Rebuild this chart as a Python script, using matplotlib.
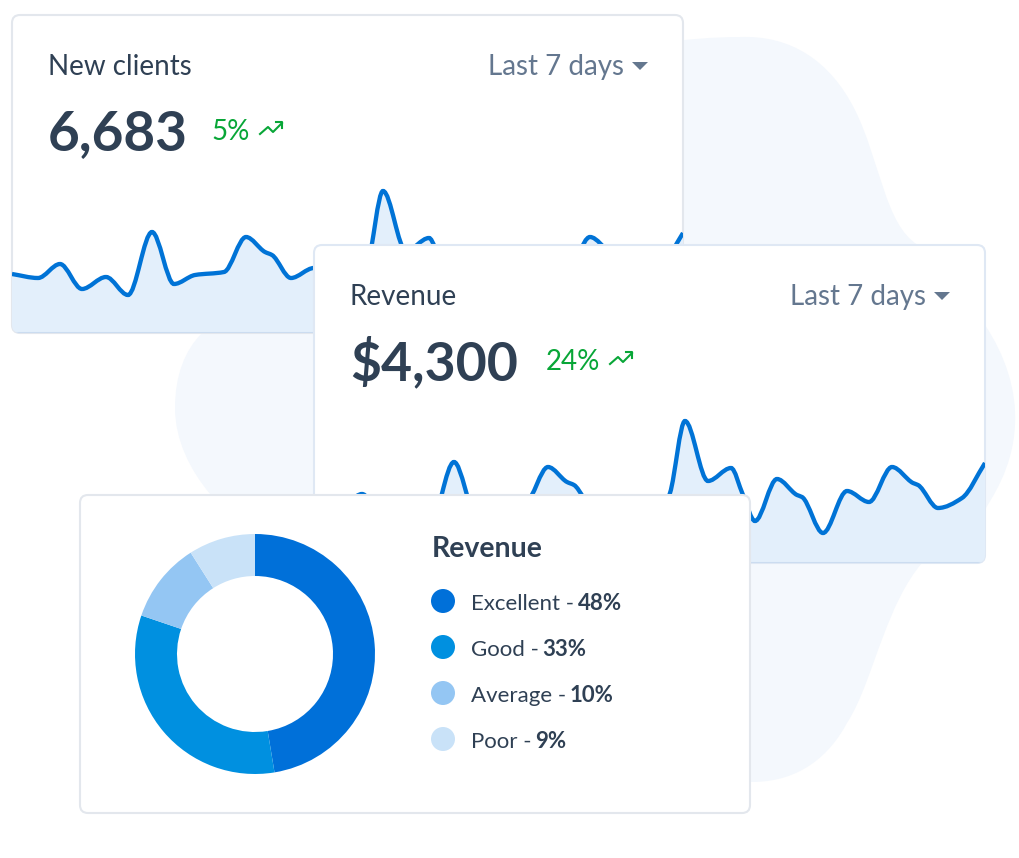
import matplotlib
matplotlib.use("Agg")
import matplotlib.pyplot as plt
from matplotlib.path import Path
from matplotlib.patches import PathPatch, FancyBboxPatch, Circle, Polygon

plt.rcParams['font.family'] = ['Lato', 'DejaVu Sans']

W, H = 1020, 858

# sparkline, x along the card, y height above card bottom
trend_x = [0, 26, 48, 70, 94, 116, 140, 162, 183, 212, 234, 253, 260, 279, 302, 328, 345,
           356, 371, 394, 417, 429, 441, 463, 483, 488, 509, 533, 555, 578, 599, 604, 624, 648, 671]
trend_y = [59, 55, 69, 44, 56, 38, 101, 49, 58, 61, 96, 81, 78, 55, 65, 53, 45,
           70, 142, 82, 95, 68, 42, 84, 68, 66, 30, 72, 61, 96, 80, 78, 55, 65, 100]

share_labels = ["Excellent", "Good", "Average", "Poor"]
share_pcts = [48, 33, 10, 9]
# the slices as drawn are a little off the printed percentages
slice_sizes = [47.4, 32.8, 10.8, 9.0]
share_colors = ["#0070d9", "#0090e0", "#94c6f3", "#c9e2f8"]

DARK = "#2f4054"
GREY = "#64778f"
GREEN = "#08a637"
BLUE = "#0073d6"
FILL = "#e3effb"
EDGE = "#e3e7ed"


def monotone_path(xs, ys):
    # smooth curve through the points, flat at peaks and valleys
    n = len(xs)
    slopes = [(ys[i + 1] - ys[i]) / (xs[i + 1] - xs[i]) for i in range(n - 1)]
    tang = [slopes[0]]
    for i in range(1, n - 1):
        if slopes[i - 1] * slopes[i] <= 0:
            tang.append(0)
        else:
            h0, h1 = xs[i] - xs[i - 1], xs[i + 1] - xs[i]
            tang.append(3 * (h0 + h1) / ((2 * h1 + h0) / slopes[i - 1] + (h1 + 2 * h0) / slopes[i]))
    tang.append(slopes[-1])
    verts, codes = [(xs[0], ys[0])], [Path.MOVETO]
    for i in range(n - 1):
        d = (xs[i + 1] - xs[i]) / 3
        verts += [(xs[i] + d, ys[i] + d * tang[i]), (xs[i + 1] - d, ys[i + 1] - d * tang[i + 1]), (xs[i + 1], ys[i + 1])]
        codes += [Path.CURVE4] * 3
    return verts, codes


def card_axes(fig, left, top, w, h, z, edge=EDGE):
    ax = fig.add_axes([left / W, 1 - (top + h) / H, w / W, h / H], zorder=z)
    ax.set_xlim(0, w)
    ax.set_ylim(0, h)
    ax.axis("off")
    box = FancyBboxPatch((0, 0), w, h, boxstyle="round,pad=0,rounding_size=8", fc="white", ec=edge, lw=1.5,
                         clip_on=False, zorder=1)
    ax.add_patch(box)
    return ax, box


def trend_icon(ax, x, y):
    ax.plot([x, x + 8, x + 13, x + 22], [y, y + 7, y + 2, y + 11], color=GREEN, lw=1.5, clip_on=False, zorder=5)
    ax.plot([x + 16, x + 22, x + 22], [y + 12, y + 12, y + 6], color=GREEN, lw=1.5, clip_on=False, zorder=5)


def stat_card(ax, box, title, value, value_size, change, change_x, icon_x):
    h = 318
    ax.text(36, h - 60, title, fontsize=20, color=DARK, va="baseline", zorder=5)
    ax.text(612, h - 60, "Last 7 days", fontsize=20, color=GREY, ha="right", va="baseline", zorder=5)
    ax.add_patch(Polygon([(620, h - 47), (636, h - 47), (628, h - 55)], fc=GREY, ec="none", zorder=5))
    ax.text(36, h - 135, value, fontsize=value_size, color=DARK, fontweight="bold", va="baseline", zorder=5)
    ax.text(change_x, h - 125, change, fontsize=20, color=GREEN, va="baseline", zorder=5)
    trend_icon(ax, icon_x, h - 119)
    verts, codes = monotone_path(trend_x, trend_y)
    area = PathPatch(Path(verts + [(trend_x[-1], 0), (trend_x[0], 0), (trend_x[0], trend_y[0])],
                          codes + [Path.LINETO, Path.LINETO, Path.CLOSEPOLY]), fc=FILL, ec="none", zorder=2)
    line = PathPatch(Path(verts, codes), fc="none", ec=BLUE, lw=3.1, zorder=3)
    ax.add_patch(area)
    ax.add_patch(line)
    area.set_clip_path(box)
    line.set_clip_path(box)
    # the bottom edge reads darker under the fill
    base, = ax.plot([0, 671], [0, 0], color="#cbdcf0", lw=2.2, zorder=4)
    base.set_clip_path(box)


fig = plt.figure(figsize=(W / 100, H / 100), dpi=100, facecolor="white")

# pale blob behind the cards
bg = fig.add_axes([0, 0, 1, 1], zorder=0)
bg.set_xlim(0, W)
bg.set_ylim(H, 0)
bg.axis("off")
blob = [(740, 37),
        (790, 35), (830, 60), (855, 110),
        (880, 160), (885, 225), (918, 245),
        (950, 265), (970, 300), (985, 325),
        (1005, 355), (1017, 390), (1015, 425),
        (1013, 470), (990, 500), (985, 510),
        (960, 530), (940, 545), (922, 563),
        (905, 583), (893, 610), (883, 637),
        (872, 665), (862, 700), (847, 723),
        (830, 755), (800, 782), (752, 782),
        (700, 782), (600, 770), (500, 700),
        (400, 640), (300, 570), (210, 494),
        (190, 470), (175, 440), (175, 408),
        (175, 375), (185, 350), (202, 333),
        (280, 270), (400, 170), (560, 70),
        (620, 45), (690, 37), (740, 37)]
bg.add_patch(PathPatch(Path(blob, [Path.MOVETO] + [Path.CURVE4] * (len(blob) - 1)), fc="#f4f8fd", ec="none"))

ax1, box1 = card_axes(fig, 12, 15, 671, 318, 1)
stat_card(ax1, box1, "New clients", "6,683", 39.5, "5%", 199.5, 248)

ax2, box2 = card_axes(fig, 314, 245, 671, 318, 2, edge="#dfe8f4")
stat_card(ax2, box2, "Revenue", "$4,300", 38.6, "24%", 232, 296)

ax3, box3 = card_axes(fig, 80, 495, 670, 318, 3)
ax3.pie(slice_sizes, colors=share_colors, startangle=90, counterclock=False, center=(175, 159), radius=120,
        wedgeprops={"width": 42, "linewidth": 0, "zorder": 3}, frame=True)
ax3.set_xlim(0, 670)
ax3.set_ylim(0, 318)
ax3.axis("off")
ax3.text(351.5, 318 - 62, "Revenue", fontsize=20.5, color=DARK, fontweight="bold", va="baseline", zorder=5)

renderer = fig.canvas.get_renderer()
for i in range(len(share_labels)):
    y = 318 - 106 - 46 * i
    ax3.add_patch(Circle((363, y), 12, fc=share_colors[i], ec="none", zorder=5))
    t = ax3.text(391, y - 9, share_labels[i] + " - ", fontsize=16, color=DARK, va="baseline", zorder=5)
    right = ax3.transData.inverted().transform((t.get_window_extent(renderer).x1, 0))[0]
    ax3.text(right - 2, y - 9, str(share_pcts[i]) + "%", fontsize=16, color=DARK, fontweight="bold",
             va="baseline", zorder=5)

fig.savefig("out.png", dpi=100)
